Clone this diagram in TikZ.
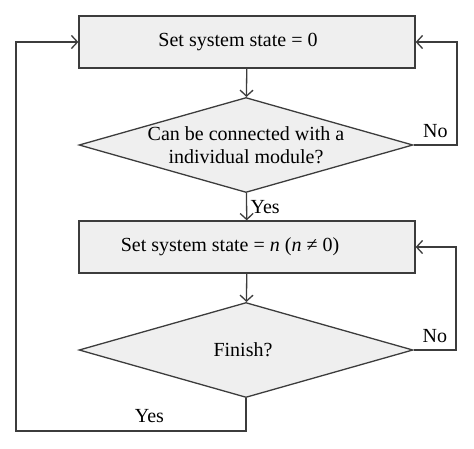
\documentclass[tikz,border=0pt]{standalone}
\usepackage{fontspec}
\setmainfont{Liberation Serif}
\usetikzlibrary{shapes.geometric,arrows.meta}
\definecolor{linegray}{HTML}{3C3C3C}
\definecolor{boxgray}{HTML}{EFEFEF}
\begin{document}
\begin{tikzpicture}[x=1pt, y=-1pt, line width=1.3pt, draw=linegray,
    >={Straight Barb[length=6pt,width=13pt]},
    box node/.style={rectangle,draw=linegray,fill=boxgray,minimum width=336pt,minimum height=52pt,inner sep=0pt,font=\fontsize{20}{23}\selectfont},
    dec node/.style={diamond,draw=linegray,fill=boxgray,aspect=3.5,minimum width=334pt,minimum height=95pt,inner sep=-4pt,align=center,font=\fontsize{20}{23}\selectfont},
    lbl/.style={font=\fontsize{20}{23}\selectfont}]

    \useasboundingbox (0,0) rectangle (474,448);

    \node[box node] at (247, 42) (s0) {\hspace*{-18pt}Set system state = 0};
    \node[dec node] at (246, 145) (conn) {Can be connected with a\\individual module?};
    \node[box node] at (247, 247) (sn) {\hspace*{-34pt}Set system state = \textit{n} (\textit{n} ≠ 0)};
    \node[dec node] at (246, 350) (fin) {\hspace*{-6pt}Finish?};
    \coordinate (noa) at (457, 145);
    \coordinate (nob) at (456, 350);
    \coordinate (yesb) at (16, 431);

    \path[->] (s0) edge (conn);
    \path[->] (conn) edge node[lbl, right] {Yes} (sn);
    \path[->] (sn) edge (fin);
    \draw[->] (conn.east) -- (noa) node[lbl, midway, above=3pt] {No} |- (s0.east);
    \draw[->] (fin.east) -- (nob) node[lbl, midway, above=3pt] {No} |- (sn.east);
    \draw[->] (fin.south) |- (yesb) node[lbl, pos=0.71, above=4pt] {Yes} |- (s0.west);
\end{tikzpicture}
\end{document}
